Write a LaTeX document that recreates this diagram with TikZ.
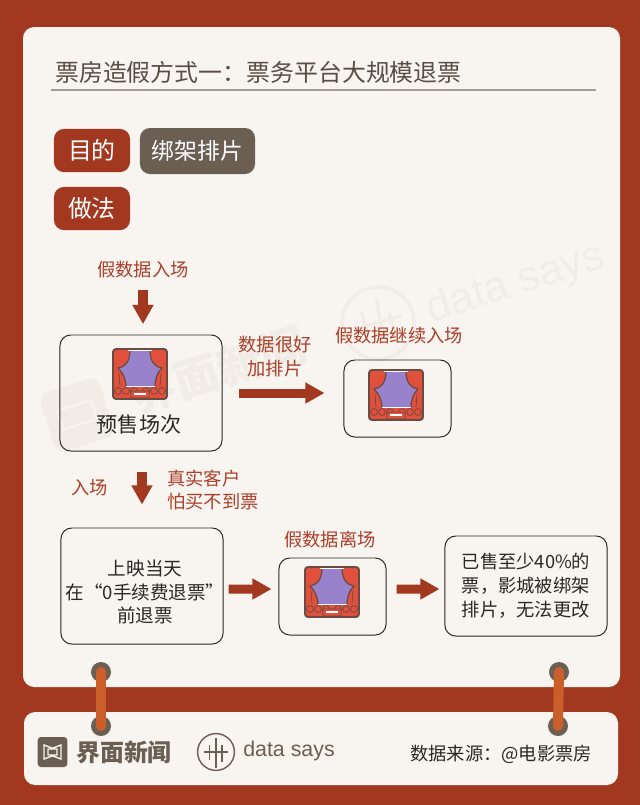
\documentclass[tikz,border=0pt]{standalone}
\usepackage{fontspec}
\setmainfont{Noto Sans CJK SC}
\newfontfamily\latinfont{Liberation Sans}
\usetikzlibrary{arrows.meta,positioning,calc}
\definecolor{Brick}{HTML}{A33821}
\definecolor{Paper}{HTML}{F8F4F0}
\definecolor{Stone}{HTML}{6B5E53}
\definecolor{Strap}{HTML}{CB5F2C}
\definecolor{Ink}{HTML}{2B2724}
\definecolor{Title}{HTML}{584E46}
\definecolor{Rule}{HTML}{A59C94}
\definecolor{Mark}{HTML}{F1ECE6}
\definecolor{Label}{HTML}{AC3F2A}
\definecolor{Curtain}{HTML}{E0503C}
\definecolor{Stage}{HTML}{9882CC}
\definecolor{Frame}{HTML}{6A4C42}
\newcommand{\fs}[1]{\fontsize{#1}{17}\selectfont}
\tikzset{
  card/.style={fill=Paper,rounded corners=0.28cm},
  tagred/.style={fill=Brick,rounded corners=0.25cm,text=white,font=\fs{17},minimum height=1.08cm,minimum width=1.9cm,inner sep=0pt},
  taggrey/.style={fill=Stone,rounded corners=0.25cm,text=white,font=\fs{16.2},minimum height=1.15cm,minimum width=2.875cm,inner sep=0pt},
  flowbox/.style={draw=Ink,line width=0.7pt,rounded corners=0.27cm,align=center,font=\fs{13},text=Ink,inner sep=0pt},
  redlabel/.style={font=\fs{13},text=Label,align=center,inner sep=0pt},
  blockarrow/.style={-{Triangle[length=0.48cm,width=0.5cm]},draw=Brick,line width=0.225cm},
  ringdot/.style={circle,fill=Stone,minimum size=0.5cm,inner sep=0pt},
  strap/.style={draw=Strap,line width=0.25cm,line cap=round},
  watermark/.style={text=Mark,inner sep=0pt,rotate=17.5},
  theatreicon/.pic={
    \fill[Curtain,rounded corners=0.08cm] (0,0) rectangle (54,50);
    \fill[Stage] (17,1) -- (37,1) .. controls (37,13) and (42,18) .. (49,19) .. controls (44,24) and (42,30) .. (42,38) -- (13,38) .. controls (13,30) and (10,24) .. (5,19) .. controls (12,18) and (17,13) .. (17,1) -- cycle;
    \draw[Frame,line width=0.9pt] (17,1) .. controls (17,13) and (12,18) .. (5,19) .. controls (10,24) and (13,30) .. (13,38);
    \draw[Frame,line width=0.9pt] (37,1) .. controls (37,13) and (42,18) .. (49,19) .. controls (44,24) and (42,30) .. (42,38);
    \draw[Frame,line width=0.5pt] (6,24) -- (7,37) (48,24) -- (47,37);
    \draw[white,line width=0.8pt] (15,1.5) -- (39,1.5) (13,37.5) -- (42,37.5);
    \fill[Curtain] (1,38) rectangle (53,49);
    \foreach \sx in {5,13,21,33,41,49} {
      \fill[Curtain,draw=Frame,line width=0.5pt] (\sx,42) circle (3.4);
    }
    \fill[Curtain,draw=Frame,line width=0.5pt,rounded corners=0.03cm] (18,42) rectangle (36,49);
    \draw[white,line width=0.8pt] (21,45) -- (33,45);
    \draw[Frame,line width=1.4pt,rounded corners=0.08cm] (0,0) rectangle (54,50);
  }
}
\begin{document}
\begin{tikzpicture}[x=0.025cm,y=-0.025cm]
  \useasboundingbox (0,0) rectangle (640,805);
  \fill[Brick] (0,0) rectangle (640,805);
  \fill[card] (23,27) rectangle (620,687);
  \fill[card] (24,712) rectangle (618,785);

  % watermarks
  \node[watermark,fill=Mark,rounded corners=0.25cm,minimum size=1.55cm] (wmbox) at (77,415) {};
  \node[watermark,draw=Paper,line width=1.5pt,minimum width=0.9cm,minimum height=0.5cm] (wminner) at (77,415) {};
  \node[watermark,font=\fs{32}\bfseries] (wmname) at (218,370) {界面新闻};
  \node[draw=Mark,line width=2.5pt,circle,minimum size=1.8cm,inner sep=0pt] (wmring) at (378,323) {};
  \node[watermark,font=\latinfont\fs{30.5}] (wmdata) at (516,284) {data says};
  \draw[Mark,line width=2.5pt] (354,329) -- (402,316) (362,312) -- (368,337) (376,299) -- (385,345) (389,311) -- (395,337);

  % title
  \node[anchor=west,inner sep=0pt,font=\fs{17},text=Title] (title) at (55,72) {票房造假方式一：票务平台大规模退票};
  \draw[Rule,line width=1pt] (51,90) -- (596,90);

  % tags
  \node[tagred] (aim) at (92,150.5) {目的};
  \node[taggrey] (aimtext) at (197.5,151) {绑架排片};
  \node[tagred] (how) at (92,208.5) {做法};

  % flow boxes
  \node[flowbox,minimum width=4.05cm,minimum height=2.9cm] (pre) at (141,393) {};
  \node[font=\fs{15},text=Ink,inner sep=0pt] (pretext) at (139,424) {预售场次};
  \node[flowbox,minimum width=2.675cm,minimum height=1.925cm] (cont) at (397.5,398.5) {};
  \node[flowbox,minimum width=4.05cm,minimum height=2.9cm] (day) at (142,586) {};
  \node[font=\fs{13.2},text=Ink,align=center,inner sep=0pt] (daytext) at (145,592) {上映当天\\在“0手续费退票”\\前退票};
  \node[flowbox,minimum width=2.675cm,minimum height=1.925cm] (leave) at (332.5,596.5) {};
  \node[flowbox,minimum width=4.05cm,minimum height=2.5cm,align=left] (sold) at (526,586) {已售至少40\%的\\票，影城被绑架\\排片，无法更改};

  \pic at (113,349) {theatreicon};
  \pic at (369,370) {theatreicon};
  \pic at (305,567) {theatreicon};

  % labels
  \node[redlabel] (entry) at (143,270) {假数据入场};
  \node[redlabel] (good) at (275,357) {数据很好\\加排片};
  \node[redlabel] (goon) at (399,336) {假数据继续入场};
  \node[redlabel] (enter) at (90,488) {入场};
  \node[redlabel,align=left] (fear) at (213,490) {真实客户\\怕买不到票};
  \node[redlabel] (exit) at (330,540) {假数据离场};

  % arrows
  \draw[blockarrow,shorten <=0.28cm,shorten >=0.26cm] (entry.south) -- (entry.south |- pre.north);
  \draw[blockarrow,shorten <=0.4cm,shorten >=0.475cm] (pre.east) -- (pre.east -| cont.west);
  \draw[blockarrow,shorten <=0.5cm,shorten >=0.575cm] (pre.south -| day.north) -- (day.north);
  \draw[blockarrow,shorten <=0.125cm,shorten >=0.175cm] ([yshift=-0.075cm]day.east) -- ([yshift=0.1875cm]leave.west);
  \draw[blockarrow,shorten <=0.25cm,shorten >=0.125cm] ([yshift=0.1875cm]leave.east) -- ([yshift=-0.075cm]sold.west);

  % rings
  \node[ringdot] (ringa) at (101,672) {};
  \node[ringdot] (ringb) at (101,726) {};
  \node[ringdot] (ringc) at (559,672) {};
  \node[ringdot] (ringd) at (558,726) {};
  \draw[strap] (ringa.center) -- (ringb.center);
  \draw[strap] (ringc.center) -- (ringd.center);

  % footer
  \node[fill=Stone,rounded corners=0.08cm,minimum width=0.74cm,minimum height=0.75cm,inner sep=0pt] (jlogo) at (52.5,752) {};
  \draw[Paper,line width=1pt] (44,745) -- (52,748) -- (53,748) -- (61,745) -- (61,759) -- (53,756) -- (52,756) -- (44,759) -- cycle (48,749) rectangle (57,755);
  \node[anchor=west,inner sep=0pt,font=\fs{17}\bfseries,text=Stone] (jname) at (76,752) {界面新闻};
  \node[draw=Stone,line width=1pt,circle,minimum size=0.92cm,inner sep=0pt] (dlogo) at (216,752) {};
  \draw[Stone,line width=1pt] (204,752) -- (228,752) (209.5,745) -- (209.5,760) (216,738) -- (216,768) (222,745) -- (222,762);
  \node[anchor=west,inner sep=0pt,font=\latinfont\fs{15.2},text=Stone] (dname) at (243,751) {data says};
  \node[anchor=west,inner sep=0pt,font=\fs{13},text=Ink] (source) at (410,754) {数据来源：@电影票房};
\end{tikzpicture}
\end{document}
